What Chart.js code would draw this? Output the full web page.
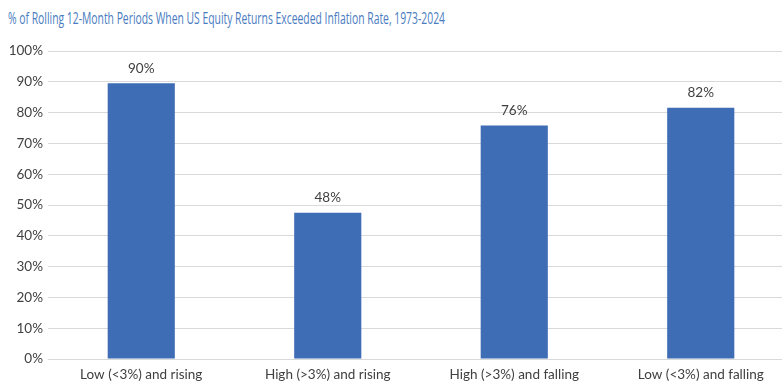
<!DOCTYPE html>
<html>
<head>
<meta charset="utf-8">
<script src="https://cdn.jsdelivr.net/npm/chart.js@4.4.1/dist/chart.umd.min.js"></script>
<style>
  html, body { margin: 0; padding: 0; background: #fff; overflow: hidden; width: 782px; height: 386px; }
  #title {
    position: absolute; left: 8px; top: 6px; white-space: nowrap;
    font-family: "Open Sans", sans-serif; font-weight: 400; font-size: 17px;
    color: #4a7cc0; transform-origin: 0 0;
  }
  #wrap { position: absolute; left: 0; top: 0; width: 796px; height: 386px; }
</style>
</head>
<body>
<div id="title">% of Rolling 12-Month Periods When US Equity Returns Exceeded Inflation Rate, 1973-2024</div>
<div id="wrap"><canvas id="myChart"></canvas></div>
<script>
// data
const categories = ["Low (<3%) and rising", "High (>3%) and rising", "High (>3%) and falling", "Low (<3%) and falling"];
const shareValues = [89.5, 47.5, 75.8, 81.6];
const valueLabels = ["90%", "48%", "76%", "82%"];
const yTicks = [0, 10, 20, 30, 40, 50, 60, 70, 80, 90, 100];

// squeeze the title so it fits like the original
const title = document.getElementById("title");
title.style.transform = "scaleX(" + (437 / title.offsetWidth) + ")";

// labels above the bars
const barLabels = {
    id: "barLabels",
    afterDatasetsDraw(chart) {
        const ctx = chart.ctx;
        const meta = chart.getDatasetMeta(0);
        ctx.save();
        ctx.font = "13.5px Lato";
        ctx.fillStyle = "#404040";
        ctx.textAlign = "center";
        ctx.textBaseline = "middle";
        meta.data.forEach((bar, i) => {
            ctx.fillText(valueLabels[i], bar.x, bar.y - 15);
        });
        ctx.restore();
    }
};

const ctx = document.getElementById("myChart");
const myChart = new Chart(ctx, {
    type: "bar",
    data: {
        labels: categories,
        datasets: [{
            data: shareValues,
            backgroundColor: "#3e6db5",
            borderWidth: 0,
            barPercentage: 0.72,
            categoryPercentage: 0.5
        }]
    },
    options: {
        responsive: true,
        maintainAspectRatio: false,
        animation: false,
        layout: { padding: { top: 51, right: 2, bottom: 2, left: 0 } },
        plugins: {
            legend: { display: false },
            tooltip: { enabled: false }
        },
        scales: {
            x: {
                afterFit: (axis) => { axis.height = 25; },
                grid: { display: false, drawTicks: false },
                border: { display: false },
                ticks: { color: "#404040", font: { family: "Lato", size: 13.5 }, padding: 8, maxRotation: 0 }
            },
            y: {
                min: 0,
                max: 100,
                afterFit: (axis) => { axis.width = 48; },
                afterBuildTicks: (axis) => { axis.ticks = yTicks.map(v => ({ value: v })); },
                grid: { color: "#d9d9d9", lineWidth: 1, drawTicks: false },
                border: { display: false },
                ticks: {
                    color: "#404040",
                    font: { family: "Lato", size: 13.5 },
                    padding: 5,
                    callback: (v) => v + "%"
                }
            }
        }
    },
    plugins: [barLabels]
});
</script>
</body>
</html>
